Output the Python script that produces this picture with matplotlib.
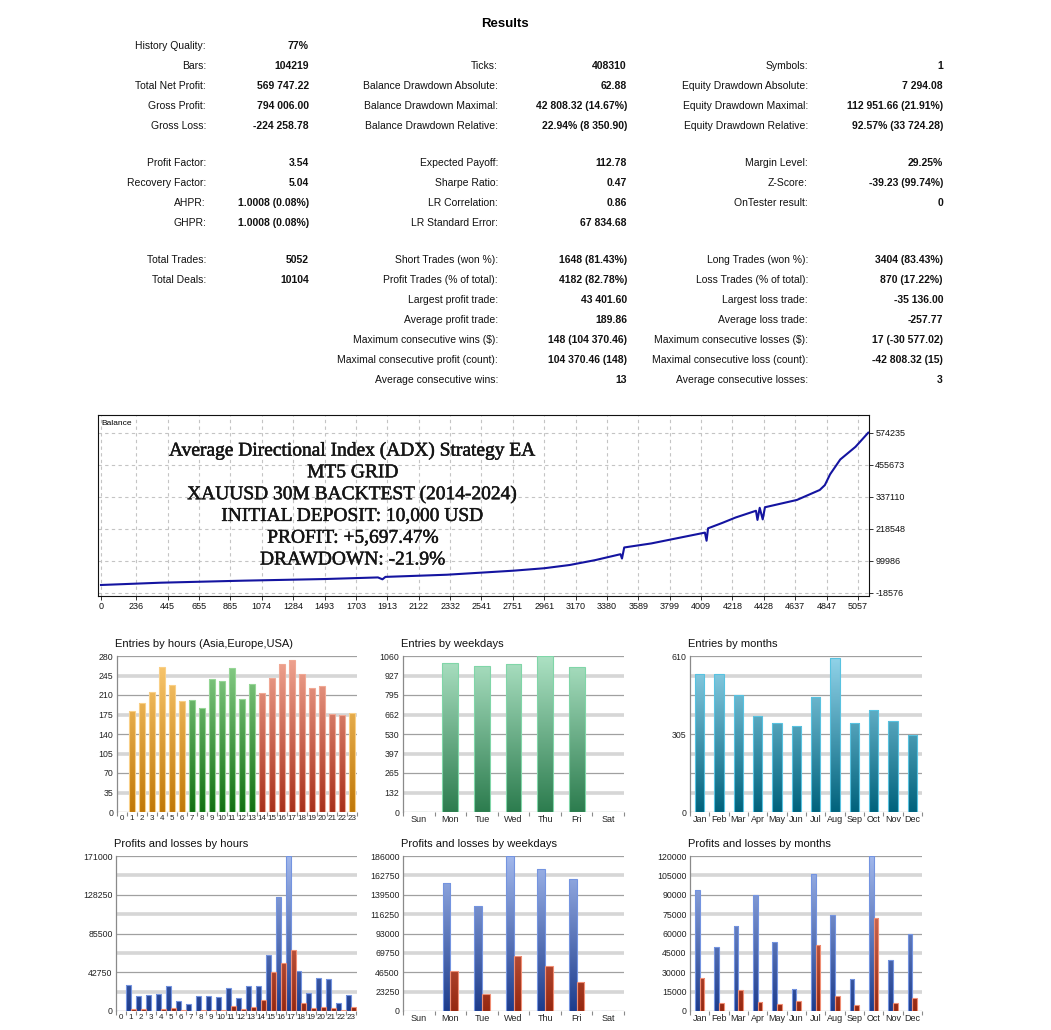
import matplotlib
matplotlib.use("Agg")
import matplotlib.pyplot as plt
import matplotlib.patheffects as pe
import numpy as np
from matplotlib.colors import LinearSegmentedColormap

plt.rcParams['font.family'] = ['Liberation Sans', 'DejaVu Sans']

W, H = 1051, 1030

# ---------------- results table ----------------
row_y = [46, 66, 86, 106, 126, 163, 183, 203, 223, 260, 280, 300, 320, 340, 360, 380]

col1_rows = [0, 1, 2, 3, 4, 5, 6, 7, 8, 9, 10]
col1_labels = ["History Quality:", "Bars:", "Total Net Profit:", "Gross Profit:", "Gross Loss:",
               "Profit Factor:", "Recovery Factor:", "AHPR:", "GHPR:", "Total Trades:", "Total Deals:"]
col1_values = ["77%", "104219", "569 747.22", "794 006.00", "-224 258.78",
               "3.54", "5.04", "1.0008 (0.08%)", "1.0008 (0.08%)", "5052", "10104"]

col2_rows = [1, 2, 3, 4, 5, 6, 7, 8, 9, 10, 11, 12, 13, 14, 15]
col2_labels = ["Ticks:", "Balance Drawdown Absolute:", "Balance Drawdown Maximal:",
               "Balance Drawdown Relative:", "Expected Payoff:", "Sharpe Ratio:", "LR Correlation:",
               "LR Standard Error:", "Short Trades (won %):", "Profit Trades (% of total):",
               "Largest profit trade:", "Average profit trade:", "Maximum consecutive wins ($):",
               "Maximal consecutive profit (count):", "Average consecutive wins:"]
col2_values = ["408310", "62.88", "42 808.32 (14.67%)", "22.94% (8 350.90)", "112.78", "0.47",
               "0.86", "67 834.68", "1648 (81.43%)", "4182 (82.78%)", "43 401.60", "189.86",
               "148 (104 370.46)", "104 370.46 (148)", "13"]

col3_rows = [1, 2, 3, 4, 5, 6, 7, 9, 10, 11, 12, 13, 14, 15]
col3_labels = ["Symbols:", "Equity Drawdown Absolute:", "Equity Drawdown Maximal:",
               "Equity Drawdown Relative:", "Margin Level:", "Z-Score:", "OnTester result:",
               "Long Trades (won %):", "Loss Trades (% of total):", "Largest loss trade:",
               "Average loss trade:", "Maximum consecutive losses ($):",
               "Maximal consecutive loss (count):", "Average consecutive losses:"]
col3_values = ["1", "7 294.08", "112 951.66 (21.91%)", "92.57% (33 724.28)", "29.25%",
               "-39.23 (99.74%)", "0", "3404 (83.43%)", "870 (17.22%)", "-35 136.00", "-257.77",
               "17 (-30 577.02)", "-42 808.32 (15)", "3"]

# ---------------- balance curve ----------------
balance_trade = [0, 400, 950, 1490, 1850, 1880, 1900, 2310, 2755, 2960, 3130, 3300, 3470, 3480,
                 3495, 3676, 3846, 4034, 4045, 4055, 4150, 4239, 4375, 4385, 4400, 4420, 4435,
                 4648, 4801, 4835, 4870, 4938, 5040, 5125]
balance_value = [10000, 18500, 26000, 32000, 38000, 31000, 40000, 48000, 63000, 72000, 84000,
                 102000, 124000, 108000, 149000, 164000, 183000, 204000, 174000, 220000, 240000,
                 260000, 285000, 251000, 296000, 253000, 298000, 325000, 362000, 380000, 420000,
                 475000, 522000, 574235]
balance_xticks = [0, 236, 445, 655, 865, 1074, 1284, 1493, 1703, 1913, 2122, 2332, 2541, 2751,
                  2961, 3170, 3380, 3589, 3799, 4009, 4218, 4428, 4637, 4847, 5057]
balance_yticks = [-18576, 99986, 218548, 337110, 455673, 574235]
overlay_lines = ["Average Directional Index (ADX) Strategy EA", "MT5 GRID",
                 "XAUUSD 30M BACKTEST (2014-2024)", "INITIAL DEPOSIT: 10,000 USD",
                 "PROFIT: +5,697.47%", "DRAWDOWN: -21.9%"]

# ---------------- distribution charts ----------------
hours = [str(h) for h in range(24)]
hour_entries = [0, 182, 195, 215, 260, 228, 199, 201, 187, 238, 235, 258, 203, 229,
                213, 241, 265, 272, 247, 222, 227, 176, 174, 178]
hour_session = ['asia'] * 7 + ['europe'] * 7 + ['usa'] * 9 + ['asia']
hour_profit = [0, 29170, 16400, 17500, 18600, 27300, 10900, 7650, 16400, 16400, 15700, 25900,
               14200, 27300, 27300, 62300, 125800, 171000, 43750, 19700, 36100, 35400, 8400, 17500]
hour_loss = [0, 1800, 2550, 360, 2550, 3650, 1460, 360, 1460, 1100, 1100, 5470, 2190, 4000,
             11670, 42660, 52870, 67800, 8750, 2900, 4740, 3650, 1100, 4375]

weekdays = ["Sun", "Mon", "Tue", "Wed", "Thu", "Fri", "Sat"]
weekday_entries = [0, 1010, 990, 1005, 1057, 985, 0]
weekday_profit = [0, 153500, 126100, 185600, 170100, 158600, 0]
weekday_loss = [0, 47600, 20600, 66600, 54300, 34900, 0]

months = ["Jan", "Feb", "Mar", "Apr", "May", "Jun", "Jul", "Aug", "Sep", "Oct", "Nov", "Dec"]
month_entries = [538, 538, 459, 375, 349, 336, 450, 602, 347, 398, 354, 300]
month_profit = [93900, 49600, 66000, 90100, 53200, 16900, 106200, 74700, 24600, 120000, 39700, 59600]
month_loss = [25600, 6100, 16100, 6900, 5400, 7900, 51200, 11800, 4600, 72200, 5900, 10200]

# gradient styles (bottom colour, top colour, edge)
STY = {
    'asia': ('#c07808', '#fbca72', '#f9cf86'),
    'europe': ('#127012', '#8cd08c', '#96d696'),
    'usa': ('#a8301a', '#f0a592', '#f0a894'),
    'week': ('#2c7c4e', '#ade2c4', '#80d6a8'),
    'month': ('#00627c', '#92d4ea', '#58c2e0'),
    'profit': ('#1d3c8c', '#a2b8ec', '#7494e0'),
    'loss': ('#962810', '#ec8a74', '#f08e74'),
}

fig = plt.figure(figsize=(W / 100, H / 100), dpi=100)
fig.patch.set_facecolor('white')


def px_axes(l, t, r, b):
    return fig.add_axes([l / W, 1 - b / H, (r - l) / W, (b - t) / H])


def fx(x):
    return x / W


def fy(y):
    return 1 - y / H


# table
fig.text(fx(505), fy(24), "Results", ha='center', va='center', fontsize=9.5, fontweight='bold')
for rows, labels, values, lx, vx in [(col1_rows, col1_labels, col1_values, 206, 309),
                                     (col2_rows, col2_labels, col2_values, 498, 627),
                                     (col3_rows, col3_labels, col3_values, 808, 943)]:
    for r, lab, val in zip(rows, labels, values):
        fig.text(fx(lx), fy(row_y[r]), lab, ha='right', va='center', fontsize=7.5, color='#111111')
        fig.text(fx(vx), fy(row_y[r]), val, ha='right', va='center', fontsize=7.5,
                 fontweight='bold', color='#111111')

# balance chart
ax = px_axes(98, 415, 869, 596)
ax.plot(balance_trade, balance_value, color='#1414a0', lw=1.5, zorder=3)
ax.set_xlim(-20, 5130)
ax.set_ylim(-30800, 639800)
ax.set_xticks(balance_xticks)
ax.set_xticklabels([str(v) for v in balance_xticks], fontsize=6.5)
ax.yaxis.tick_right()
ax.set_yticks(balance_yticks)
ax.set_yticklabels([str(v) for v in balance_yticks], fontsize=6.5)
ax.tick_params(length=3, width=0.6, pad=1.5, colors='#111111')
ax.grid(True, color='#c4c4c4', linestyle=(0, (3, 3)), lw=0.8)
for s in ax.spines.values():
    s.set_color('#111111')
    s.set_linewidth(0.8)
ax.text(0.005, 0.97, "Balance", transform=ax.transAxes, ha='left', va='top', fontsize=6)
for i, line in enumerate(overlay_lines):
    fig.text(fx(353), fy(451 + i * 21.8), line, ha='center', va='center', fontsize=14,
             family='Liberation Serif', color='#151515',
             path_effects=[pe.withStroke(linewidth=0.35, foreground='#151515')])


def bar_panel(rect, title, cats, xlim, ymax, labeled, series, xfs=6.5):
    a = px_axes(*rect)
    a.set_xlim(*xlim)
    a.set_ylim(0, ymax)
    levels = np.linspace(0, ymax, 9)
    for i, lv in enumerate(levels):
        if i % 2 == 0:
            a.axhline(lv, color='#a0a0a0', lw=0.9, zorder=1)
        else:
            a.axhline(lv, color='#d6d6d6', lw=2.6, zorder=1)
    grad = np.linspace(1, 0, 256).reshape(-1, 1)
    x = np.arange(len(cats))
    for vals, off, width, styles in series:
        for xi, v, st in zip(x, vals, styles):
            bot, top, edge = STY[st]
            cm = LinearSegmentedColormap.from_list('g', [bot, top])
            b = a.bar(xi + off, v, width, facecolor='none', edgecolor=edge, lw=0.8, zorder=3)[0]
            im = a.imshow(grad, extent=(b.get_x(), b.get_x() + b.get_width(), 0, ymax),
                          aspect='auto', cmap=cm, vmin=0, vmax=1, zorder=2,
                          interpolation='bilinear')
            im.set_clip_path(b)
    a.set_xlim(*xlim)
    a.set_ylim(0, ymax)
    for s in ['top', 'right', 'bottom']:
        a.spines[s].set_visible(False)
    a.spines['left'].set_color('#8a8a8a')
    a.spines['left'].set_linewidth(0.9)
    a.set_yticks([levels[i] for i in labeled])
    a.set_yticklabels([str(int(levels[i])) for i in labeled], fontsize=6.3, color='#222222')
    a.set_xticks(x)
    a.set_xticklabels(cats, fontsize=xfs, color='#222222')
    a.set_xticks(np.arange(len(cats) + 1) - 0.5, minor=True)
    a.tick_params(axis='both', which='major', length=0, pad=2.5)
    a.tick_params(axis='x', which='minor', length=3, color='#8a8a8a', width=0.8)
    a.set_facecolor('none')
    fig.text(fx(rect[0] - 2), fy(rect[1] - 12), title, ha='left', va='center', fontsize=8,
             color='#111111')
    return a


all9 = list(range(9))
even = [0, 2, 4, 6, 8]

bar_panel((117, 656, 357, 812), "Entries by hours (Asia,Europe,USA)", hours, (-0.1, 23.5), 280,
          all9, [(hour_entries, 0.0, 0.56, hour_session)], xfs=5.8)
bar_panel((403, 656, 624, 812), "Entries by weekdays", weekdays, (-0.5, 6.5), 1060,
          all9, [(weekday_entries, 0.0, 0.5, ['week'] * 7)])
bar_panel((690, 656, 922, 812), "Entries by months", months, (-0.5, 11.5), 610,
          [0, 4, 8], [(month_entries, 0.0, 0.48, ['month'] * 12)])
bar_panel((116, 856, 357, 1011), "Profits and losses by hours", hours, (-0.4, 23.6), 171000,
          even, [(hour_profit, -0.24, 0.46, ['profit'] * 24),
                 (hour_loss, 0.24, 0.46, ['loss'] * 24)], xfs=5.8)
bar_panel((403, 856, 624, 1011), "Profits and losses by weekdays", weekdays, (-0.5, 6.5), 186000,
          all9, [(weekday_profit, -0.12, 0.24, ['profit'] * 7),
                 (weekday_loss, 0.12, 0.24, ['loss'] * 7)])
bar_panel((690, 856, 922, 1011), "Profits and losses by months", months, (-0.5, 11.5), 120000,
          all9, [(month_profit, -0.12, 0.23, ['profit'] * 12),
                 (month_loss, 0.12, 0.23, ['loss'] * 12)])

fig.savefig("out.png", dpi=100)
